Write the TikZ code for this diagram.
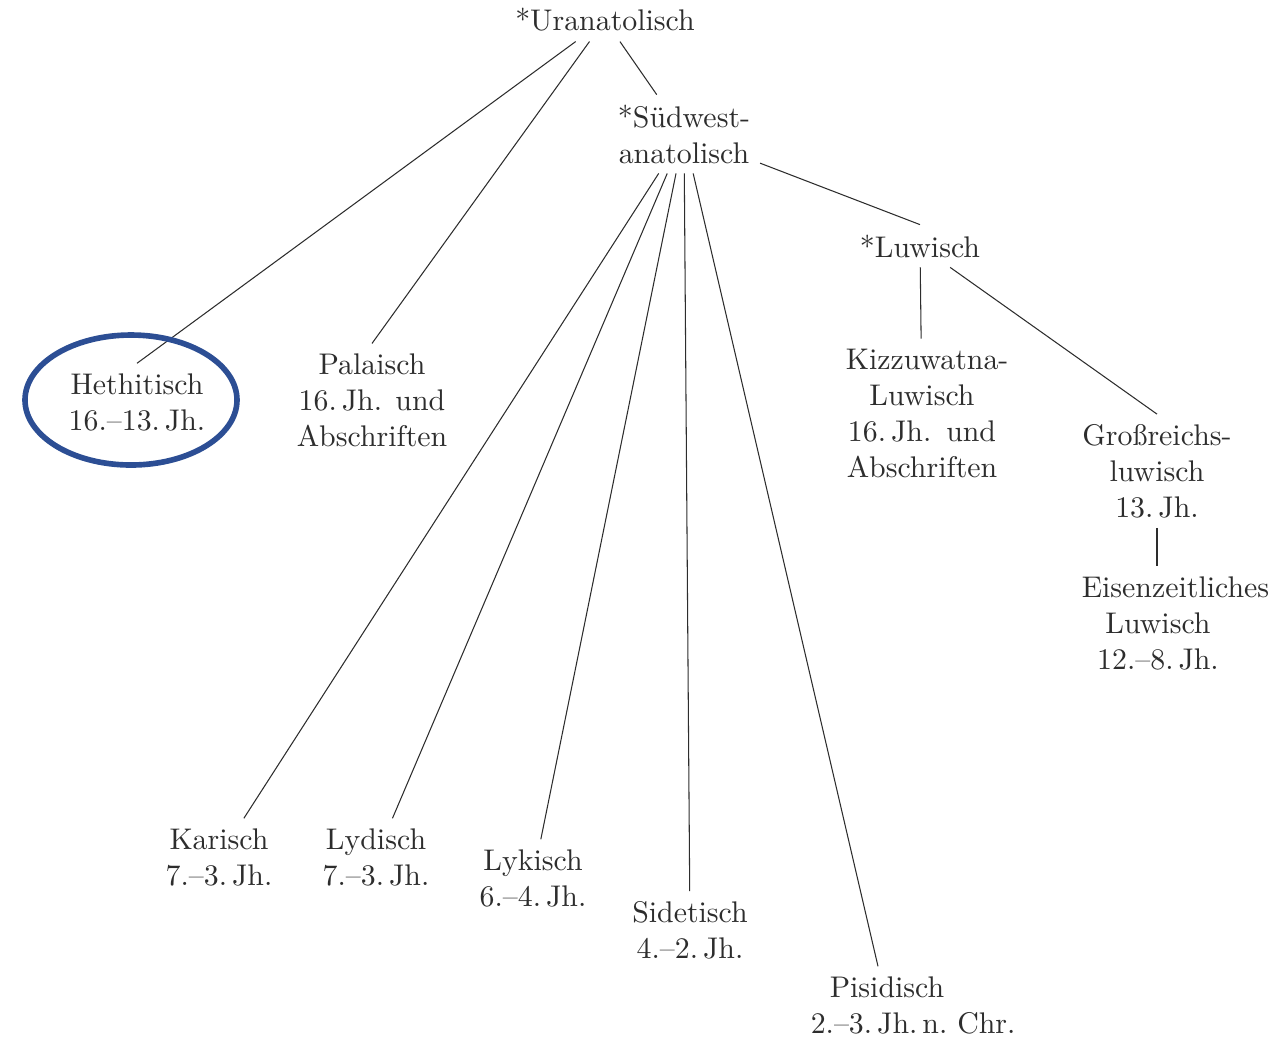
\documentclass[tikz,border=0pt]{standalone}
\usepackage{fontspec}
\setmainfont{lmroman10-regular.otf}
\usetikzlibrary{positioning}
\definecolor{ringblue}{RGB}{44,78,148}
\definecolor{inkgray}{RGB}{45,45,45}

\begin{document}
\begin{tikzpicture}[
  every node/.style={font=\fontsize{17}{20.5}\selectfont, inner sep=5.5pt, text=inkgray},
  lang/.style={align=center},
  wide/.style={text width=3.05cm, align=center},
  branch/.style={line width=0.6pt, color=inkgray},
  ring/.style={line width=3.2pt, draw=ringblue}
]
  \useasboundingbox (0,0) rectangle (25.76,-20.74);

  % proto-languages
  \node[lang] (ur) at (12.10,-0.40) {*Uranatolisch};
  \node[lang] (sw) at (13.68,-2.68) {*Südwest-\\anatolisch};
  \node[lang] (lu) at (18.40,-4.92) {*Luwisch};

  % attested languages
  \node[lang] (heth) at (2.74,-8.04) {Hethitisch\\16.–13.\,Jh.};
  \node[lang] (pal)  at (7.44,-8.00) {Palaisch\\16.\,Jh. und\\Abschriften};
  \node[wide] (kiz)  at (18.44,-8.26) {\mbox{Kizzuwatna-}\\Luwisch\\16.\,Jh. und\\Abschriften};
  \node[lang] (gr)   at (23.14,-9.42) {Großreichs-\\luwisch\\13.\,Jh.};
  \node[wide] (eis)  at (23.16,-12.46) {\mbox{Eisenzeitliches}\\Luwisch\\12.–8.\,Jh.};
  \node[lang] (kar)  at (4.38,-17.14) {Karisch\\7.–3.\,Jh.};
  \node[lang] (lyd)  at (7.52,-17.14) {Lydisch\\7.–3.\,Jh.};
  \node[lang] (lyk)  at (10.66,-17.56) {Lykisch\\6.–4.\,Jh.};
  \node[lang] (sid)  at (13.80,-18.60) {Sidetisch\\4.–2.\,Jh.};
  \node[wide] (pis)  at (17.74,-20.10) {Pisidisch\\\mbox{2.–3.\,Jh.\,n.\ Chr.}};

  % branches
  \draw[branch] (ur) -- (heth.north);
  \draw[branch] (ur) -- (pal.north);
  \draw[branch] (ur) -- (sw);
  \draw[branch] (sw) -- (lu.north);
  \foreach \n in {kar,lyd,lyk,sid,pis} \draw[branch] (sw) -- (\n);
  \draw[branch] (lu) -- (kiz);
  \draw[branch] (lu) -- (gr.north);
  \draw[branch] (gr) -- (gr |- eis.north);

  \draw[ring] ([xshift=-0.12cm,yshift=0.04cm]heth.center) ellipse [x radius=2.12cm, y radius=1.3cm];
\end{tikzpicture}
\end{document}
